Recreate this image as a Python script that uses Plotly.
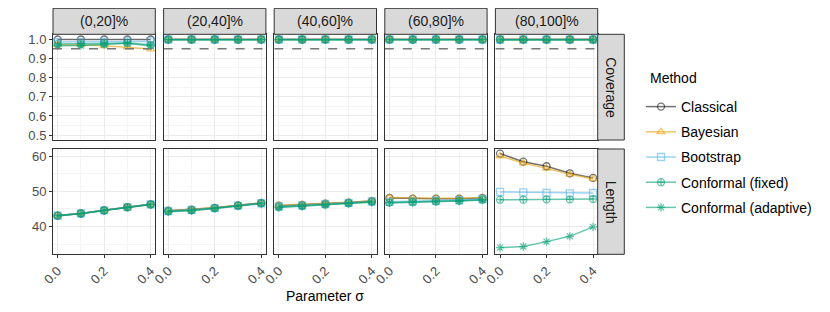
import plotly.graph_objects as go

# ---------------- data ----------------
sigma = [0.0, 0.1, 0.2, 0.3, 0.4]
facets = ["(0,20]%", "(20,40]%", "(40,60]%", "(60,80]%", "(80,100]%"]
methods = ["Classical", "Bayesian", "Bootstrap", "Conformal (fixed)", "Conformal (adaptive)"]
target_coverage = 0.95

# coverage per facet (rows = facets, cols = sigma)
coverage_classical = [
    [0.998, 0.998, 0.998, 0.998, 0.998],
    [0.999, 0.999, 0.999, 0.999, 0.999],
    [0.999, 0.999, 0.999, 0.999, 0.999],
    [0.999, 0.999, 0.999, 0.999, 0.999],
    [0.999, 0.999, 0.999, 0.999, 0.999],
]
coverage_bayesian = [
    [0.970, 0.970, 0.965, 0.958, 0.948],
    [0.998, 0.998, 0.998, 0.998, 0.998],
    [0.998, 0.998, 0.998, 0.998, 0.998],
    [0.998, 0.998, 0.998, 0.998, 0.998],
    [0.998, 0.998, 0.998, 0.998, 0.998],
]
coverage_bootstrap = [
    [0.985, 0.985, 0.985, 0.988, 0.988],
    [0.998, 0.998, 0.998, 0.998, 0.998],
    [0.998, 0.998, 0.998, 0.998, 0.998],
    [0.998, 0.998, 0.998, 0.998, 0.998],
    [0.998, 0.998, 0.998, 0.998, 0.998],
]
coverage_conf_fixed = [
    [0.975, 0.975, 0.977, 0.980, 0.970],
    [0.997, 0.997, 0.997, 0.997, 0.997],
    [0.997, 0.997, 0.997, 0.997, 0.997],
    [0.997, 0.997, 0.997, 0.997, 0.997],
    [0.997, 0.997, 0.997, 0.997, 0.997],
]
coverage_conf_adaptive = [
    [0.966, 0.967, 0.972, 0.978, 0.964],
    [0.997, 0.997, 0.997, 0.997, 0.997],
    [0.997, 0.997, 0.997, 0.997, 0.997],
    [0.997, 0.997, 0.997, 0.997, 0.997],
    [0.995, 0.995, 0.995, 0.995, 0.995],
]

# interval length per facet
length_classical = [
    [43.1, 43.7, 44.6, 45.5, 46.3],
    [44.5, 44.8, 45.3, 46.0, 46.7],
    [45.9, 46.1, 46.5, 46.8, 47.2],
    [48.1, 47.9, 47.9, 47.9, 48.1],
    [60.7, 58.4, 57.1, 55.1, 53.8],
]
length_bayesian = [
    [43.1, 43.7, 44.6, 45.5, 46.3],
    [44.5, 44.8, 45.3, 46.0, 46.7],
    [46.0, 46.2, 46.6, 46.9, 47.3],
    [48.2, 48.0, 48.0, 48.0, 48.2],
    [60.0, 58.0, 56.5, 54.8, 53.5],
]
length_bootstrap = [
    [43.1, 43.7, 44.6, 45.5, 46.3],
    [44.4, 44.7, 45.2, 45.9, 46.6],
    [45.7, 46.0, 46.4, 46.7, 47.1],
    [47.0, 47.1, 47.3, 47.5, 47.8],
    [49.8, 49.7, 49.5, 49.4, 49.5],
]
length_conf_fixed = [
    [43.1, 43.7, 44.6, 45.5, 46.3],
    [44.3, 44.6, 45.2, 45.9, 46.6],
    [45.5, 45.8, 46.2, 46.6, 47.0],
    [46.8, 46.9, 47.1, 47.3, 47.6],
    [47.6, 47.6, 47.7, 47.7, 47.8],
]
length_conf_adaptive = [
    [43.0, 43.6, 44.5, 45.4, 46.2],
    [44.2, 44.5, 45.1, 45.8, 46.5],
    [45.4, 45.7, 46.1, 46.5, 46.9],
    [46.7, 46.8, 47.0, 47.2, 47.5],
    [34.0, 34.3, 35.7, 37.2, 39.9],
]

coverage = [coverage_classical, coverage_bayesian, coverage_bootstrap,
            coverage_conf_fixed, coverage_conf_adaptive]
lengths = [length_classical, length_bayesian, length_bootstrap,
           length_conf_fixed, length_conf_adaptive]

# ---------------- style ----------------
colors = ["rgba(0,0,0,0.55)", "rgba(230,159,0,0.6)", "rgba(86,180,233,0.6)",
          "rgba(0,158,115,0.6)", "rgba(0,158,115,0.6)"]
symbols = ["circle-open", "triangle-up-open", "square-open",
           "circle-cross-open", "asterisk-open"]
FONT = "Liberation Sans, Arial, sans-serif"
W, H = 830, 312
OFF = 8  # page body margin

def px(x):
    return (x - OFF) / W

def py(y):
    return 1 - (y - OFF) / H

panel_left = [53.0, 163.6, 274.2, 384.8, 495.4]
panel_w = 102.3
strip_top, strip_bot = 8.3, 34.3
row_y = [(34.3, 140.0), (149.0, 254.3)]
rstrip_x = (597.7, 624.3)

fig = go.Figure()
layout = {}
ranges = [[0.475, 1.025], [32.1, 62.0]]
y_major = [dict(tick0=0.5, dtick=0.1, tickformat=".1f"), dict(tick0=40, dtick=10)]
y_minor = [0.05, 5]

for r in range(2):
    for c in range(5):
        idx = r * 5 + c + 1
        xa = "xaxis" if idx == 1 else f"xaxis{idx}"
        ya = "yaxis" if idx == 1 else f"yaxis{idx}"
        xr = "x" if idx == 1 else f"x{idx}"
        yr = "y" if idx == 1 else f"y{idx}"
        x0 = panel_left[c]
        layout[xa] = dict(
            domain=[px(x0), px(x0 + panel_w)], anchor=yr, range=[-0.02, 0.42],
            tick0=0, dtick=0.2, tickformat=".1f", automargin=False,
            showticklabels=(r == 1), ticks="outside" if r == 1 else "",
            ticklen=3, tickcolor="#333333", tickangle=-45,
            tickfont=dict(family=FONT, size=13, color="#4D4D4D"),
            showgrid=True, gridcolor="#EBEBEB", gridwidth=1,
            minor=dict(dtick=0.1, tick0=0, showgrid=True, gridcolor="#F4F4F4", gridwidth=0.6),
            showline=True, mirror=True, linecolor="#333333", linewidth=1,
            zeroline=False, fixedrange=True,
        )
        layout[ya] = dict(
            domain=[py(row_y[r][1]), py(row_y[r][0])], anchor=xr, range=ranges[r],
            **y_major[r], automargin=False,
            showticklabels=(c == 0), ticks="outside" if c == 0 else "",
            ticklen=3, tickcolor="#333333",
            tickfont=dict(family=FONT, size=13, color="#4D4D4D"),
            showgrid=True, gridcolor="#EBEBEB", gridwidth=1,
            minor=dict(dtick=y_minor[r], showgrid=True, gridcolor="#F4F4F4", gridwidth=0.6),
            showline=True, mirror=True, linecolor="#333333", linewidth=1,
            zeroline=False, fixedrange=True,
        )
        data = coverage if r == 0 else lengths
        for m in range(5):
            fig.add_trace(go.Scatter(
                x=sigma, y=data[m][c], mode="lines+markers", name=methods[m],
                legendgroup=methods[m], showlegend=(idx == 1),
                line=dict(color=colors[m], width=1.5),
                marker=dict(symbol=symbols[m], size=7, color=colors[m],
                            line=dict(color=colors[m], width=1.3)),
                xaxis=xr, yaxis=yr, cliponaxis=True,
            ))
        if r == 0:
            fig.add_trace(go.Scatter(
                x=[-0.02, 0.42], y=[target_coverage, target_coverage], mode="lines",
                line=dict(color="#777777", width=1.4, dash="dash"),
                showlegend=False, hoverinfo="skip", xaxis=xr, yaxis=yr,
            ))

shapes = []
annotations = []
for c in range(5):
    x0 = panel_left[c]
    shapes.append(dict(type="rect", xref="paper", yref="paper",
                       x0=px(x0), x1=px(x0 + panel_w), y0=py(strip_bot), y1=py(strip_top),
                       fillcolor="#D9D9D9", line=dict(color="#333333", width=1), layer="above"))
    annotations.append(dict(text=facets[c], xref="paper", yref="paper",
                            x=px(x0 + panel_w / 2), y=py((strip_top + strip_bot) / 2),
                            showarrow=False, xanchor="center", yanchor="middle",
                            font=dict(family=FONT, size=14, color="#1A1A1A")))
for r, lab in enumerate(["Coverage", "Length"]):
    shapes.append(dict(type="rect", xref="paper", yref="paper",
                       x0=px(rstrip_x[0]), x1=px(rstrip_x[1]),
                       y0=py(row_y[r][1]), y1=py(row_y[r][0]),
                       fillcolor="#D9D9D9", line=dict(color="#333333", width=1), layer="above"))
    annotations.append(dict(text=lab, xref="paper", yref="paper",
                            x=px(sum(rstrip_x) / 2), y=py(sum(row_y[r]) / 2),
                            showarrow=False, textangle=90, xanchor="center", yanchor="middle",
                            font=dict(family=FONT, size=14, color="#1A1A1A")))
annotations.append(dict(text="Parameter σ", xref="paper", yref="paper",
                        x=px(325), y=py(296), showarrow=False,
                        xanchor="center", yanchor="middle",
                        font=dict(family=FONT, size=14, color="#000000")))
annotations.append(dict(text="Method", xref="paper", yref="paper",
                        x=px(648), y=py(78), showarrow=False,
                        xanchor="left", yanchor="middle",
                        font=dict(family=FONT, size=14, color="#000000")))

fig.update_layout(
    **layout,
    width=W, height=H, margin=dict(l=0, r=0, t=0, b=0, autoexpand=False),
    paper_bgcolor="white", plot_bgcolor="white",
    shapes=shapes, annotations=annotations,
    font=dict(family=FONT, size=14, color="#000000"),
    legend=dict(
        x=px(641), y=py(91), xanchor="left", yanchor="top",
        font=dict(family=FONT, size=14, color="#000000"),
        bgcolor="rgba(0,0,0,0)", itemwidth=30, tracegroupgap=4,
    ),
    showlegend=True,
)

fig.write_html("out.html")
